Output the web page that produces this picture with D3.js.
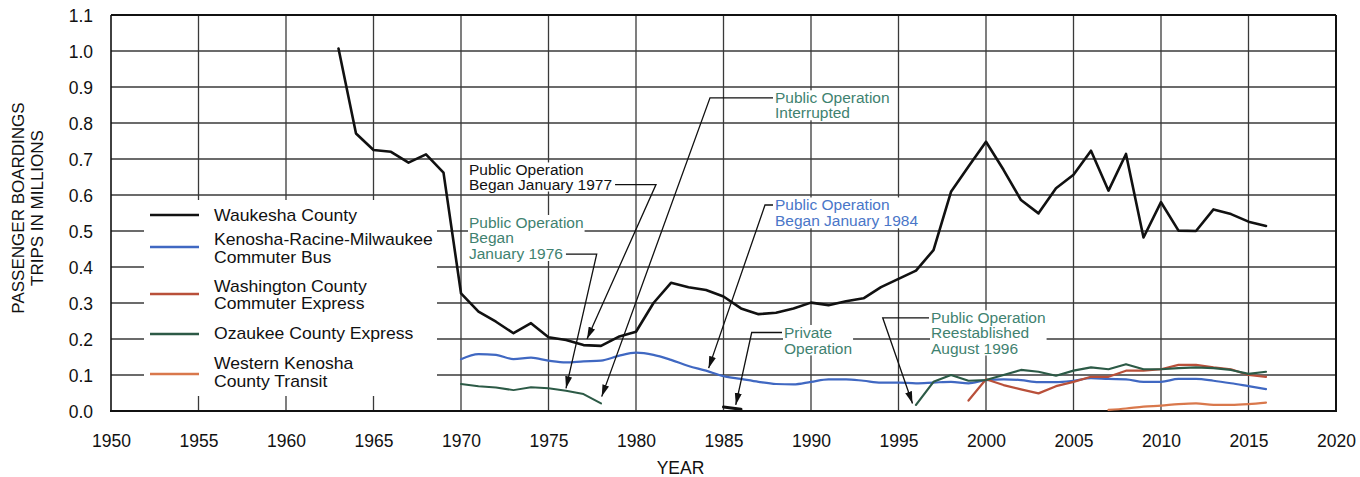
<!DOCTYPE html>
<html><head><meta charset="utf-8">
<script src="https://cdn.jsdelivr.net/npm/d3@7"></script>
<style>
body{margin:0;background:#fff}
svg{display:block}
text{font-family:"Liberation Sans",Arial,Helvetica,sans-serif}
</style>
</head><body>
<svg id="c" width="1360" height="477"></svg>
<script>
// ---------------- DATA ----------------
const xTickValues = [1950,1955,1960,1965,1970,1975,1980,1985,1990,1995,2000,2005,2010,2015,2020];
const yTickValues = [0,0.1,0.2,0.3,0.4,0.5,0.6,0.7,0.8,0.9,1.0,1.1];
const yTickLabels = ["0.0","0.1","0.2","0.3","0.4","0.5","0.6","0.7","0.8","0.9","1.0","1.1"];

const waukeshaStart = 1963;
const waukesha = [1.007,0.771,0.725,0.72,0.69,0.713,0.662,0.327,0.276,0.248,0.216,0.244,0.205,0.197,0.183,0.181,0.206,0.22,0.30,0.356,0.344,0.336,0.318,0.285,0.269,0.273,0.285,0.301,0.294,0.305,0.313,0.344,0.367,0.39,0.447,0.609,0.679,0.748,0.67,0.586,0.549,0.619,0.656,0.723,0.612,0.714,0.482,0.58,0.501,0.50,0.56,0.547,0.526,0.514];

const krmStart = 1970;
const krm = [0.144,0.158,0.156,0.144,0.148,0.14,0.135,0.138,0.14,0.153,0.162,0.156,0.142,0.125,0.112,0.097,0.089,0.081,0.075,0.074,0.081,0.088,0.088,0.084,0.079,0.079,0.077,0.079,0.081,0.077,0.086,0.088,0.086,0.08,0.08,0.084,0.091,0.089,0.088,0.081,0.081,0.089,0.089,0.084,0.077,0.069,0.061];

const washingtonStart = 1999;
const washington = [0.029,0.088,0.072,0.06,0.049,0.069,0.081,0.095,0.095,0.112,0.112,0.116,0.128,0.128,0.121,0.116,0.10,0.095];

const ozaukeeAStart = 1970;
const ozaukeeA = [0.075,0.069,0.065,0.058,0.066,0.063,0.056,0.047,0.021];
const ozaukeeBStart = 1985;
const ozaukeeB = [0.011,0.005];
const ozaukeeCStart = 1996;
const ozaukeeC = [0.017,0.081,0.10,0.084,0.086,0.10,0.114,0.109,0.098,0.112,0.121,0.116,0.13,0.116,0.116,0.119,0.121,0.119,0.114,0.103,0.109];

const westernStart = 2007;
const western = [0.003,0.007,0.012,0.015,0.019,0.021,0.017,0.017,0.019,0.023];

const legendNames = [["Waukesha County"],["Kenosha-Racine-Milwaukee","Commuter Bus"],["Washington County","Commuter Express"],["Ozaukee County Express"],["Western Kenosha","County Transit"]];
const seriesColors = ["#111111","#4068c2","#b9503a","#2c5a46","#d9784c"];

const annotationTexts = [
  ["Public Operation","Interrupted"],
  ["Public Operation","Began January 1977"],
  ["Public Operation","Began","January 1976"],
  ["Public Operation","Began January 1984"],
  ["Private","Operation"],
  ["Public Operation","Reestablished","August 1996"]
];
const annotationTargets = [[1978.04,0.04],[1977.2,0.2],[1976.0,0.063],[1984.15,0.119],[1985.7,0.017],[1995.8,0.021]];

// ---------------- LAYOUT ----------------
const x = d3.scaleLinear().domain([1950,2020]).range([111,1336]);
const y = d3.scaleLinear().domain([0,1.1]).range([411,15]);
const svg = d3.select("#c");

const gGrid = svg.append("g");
const gBg = svg.append("g");
const gLines = svg.append("g");
const gLead = svg.append("g");
const gText = svg.append("g");

// grid
gGrid.selectAll("line.h").data(yTickValues.filter(v=>v>0 && v<1.05)).enter().append("line")
  .attr("x1",x(1950)).attr("x2",x(2020)).attr("y1",d=>y(d)).attr("y2",d=>y(d))
  .attr("stroke","#3a3a3a").attr("stroke-width",1.3);
gGrid.selectAll("line.v").data(xTickValues.filter(v=>v>1950 && v<2020)).enter().append("line")
  .attr("x1",d=>x(d)).attr("x2",d=>x(d)).attr("y1",y(1.1)).attr("y2",y(0))
  .attr("stroke","#3a3a3a").attr("stroke-width",1.3);
// frame
gGrid.append("line").attr("x1",x(1950)).attr("x2",x(2020)).attr("y1",y(1.1)).attr("y2",y(1.1)).attr("stroke","#111").attr("stroke-width",2);
gGrid.append("line").attr("x1",x(2020)).attr("x2",x(2020)).attr("y1",y(1.1)).attr("y2",y(0)).attr("stroke","#111").attr("stroke-width",2);
gGrid.append("line").attr("x1",x(1950)).attr("x2",x(1950)).attr("y1",y(1.1)).attr("y2",y(0)).attr("stroke","#111").attr("stroke-width",1.6);
gGrid.append("line").attr("x1",x(1950)-1).attr("x2",x(2020)+1).attr("y1",y(0)).attr("y2",y(0)).attr("stroke","#111").attr("stroke-width",2.2);

// axes (labels only)
const xAxis = d3.axisBottom(x).tickValues(xTickValues).tickFormat(d3.format("d")).tickSize(0).tickPadding(0);
const gx = svg.append("g").attr("transform",`translate(0,${y(0)})`).call(xAxis);
gx.select(".domain").remove();
gx.selectAll("text").attr("y",35.5).attr("dy",null).attr("font-size",17.5).attr("fill","#111")
  .style("font-family",'"Liberation Sans",Arial,sans-serif');

const yAxis = d3.axisLeft(y).tickValues(yTickValues).tickFormat((d,i)=>yTickLabels[i]).tickSize(0).tickPadding(18);
const gy = svg.append("g").attr("transform",`translate(${x(1950)},0)`).call(yAxis);
gy.select(".domain").remove();
gy.selectAll("text").attr("font-size",17.5).attr("fill","#111").attr("dy","0.36em")
  .style("font-family",'"Liberation Sans",Arial,sans-serif');

// axis titles
svg.append("text").attr("x",680.5).attr("y",474).attr("text-anchor","middle")
  .attr("font-size",17.5).attr("fill","#111").text("YEAR");
const yt = svg.append("text").attr("transform","translate(0,208) rotate(-90)").attr("text-anchor","middle")
  .attr("font-size",17).attr("fill","#111");
yt.append("tspan").attr("x",0).attr("y",24).text("PASSENGER BOARDINGS");
yt.append("tspan").attr("x",0).attr("y",42.5).text("TRIPS IN MILLIONS");

// legend box
gBg.append("rect").attr("x",144).attr("y",200).attr("width",293).attr("height",196).attr("fill","#fff");

// series
const toPts = (start, arr) => arr.map((v,i)=>[start+i, v]);
const lineLin = d3.line().x(d=>x(d[0])).y(d=>y(d[1]));
const lineSm = d3.line().x(d=>x(d[0])).y(d=>y(d[1])).curve(d3.curveMonotoneX);
const series = [
  {pts: toPts(krmStart, krm), color: seriesColors[1], w: 2.2, gen: lineSm},
  {pts: toPts(westernStart, western), color: seriesColors[4], w: 2.2, gen: lineSm},
  {pts: toPts(washingtonStart, washington), color: seriesColors[2], w: 2.2, gen: lineLin},
  {pts: toPts(ozaukeeAStart, ozaukeeA), color: seriesColors[3], w: 2.0, gen: lineLin},
  {pts: toPts(ozaukeeBStart, ozaukeeB), color: "#111", w: 3.0, gen: lineLin},
  {pts: toPts(ozaukeeCStart, ozaukeeC), color: seriesColors[3], w: 2.2, gen: lineLin},
  {pts: toPts(waukeshaStart, waukesha), color: seriesColors[0], w: 2.6, gen: lineLin}
];
gLines.selectAll("path").data(series).enter().append("path")
  .attr("d",d=>d.gen(d.pts)).attr("fill","none").attr("stroke",d=>d.color)
  .attr("stroke-width",d=>d.w).attr("stroke-linejoin","round").attr("stroke-linecap","round");

// legend entries
const legendLineY = [215, 247, 294, 334, 374];
const legendBaselines = [[221],[244.5,262.5],[291.5,309],[339],[368.5,386.5]];
legendNames.forEach((names,i)=>{
  gText.append("line").attr("x1",150).attr("x2",199).attr("y1",legendLineY[i]).attr("y2",legendLineY[i])
    .attr("stroke",seriesColors[i]).attr("stroke-width",i===0?2.6:2.4);
  names.forEach((n,j)=>{
    gText.append("text").attr("transform",`translate(214,${legendBaselines[i][j]}) scale(1.1,1)`)
      .attr("font-size",16).attr("fill","#111").text(n);
  });
});

// annotations
const annColors = ["#3f8270","#111111","#3f8270","#4a76c8","#3f8270","#3f8270"];
const annTextX = [775, 469, 469, 775, 784, 931];
const annFirstBaseline = [102.8, 175, 227.5, 210, 337.5, 322.8];
const annLineH = [15.6, 14.6, 15.8, 16.4, 16, 15.4];
const annSide = ["right","left","left","right","right","right"];
const annElbowX = [710, 656, 596.7, 765, 751.7, 882.7];
const annLeadLine = [0, 1, 2, 0, 0, 0];
const annFont = 14.5;

const defs = svg.append("defs");
defs.append("marker").attr("id","arr").attr("markerUnits","userSpaceOnUse")
  .attr("markerWidth",14).attr("markerHeight",10).attr("refX",12).attr("refY",3.5)
  .attr("orient","auto").append("path").attr("d","M0,0 L12,3.5 L0,7 Z").attr("fill","#111");

annotationTexts.forEach((lines,i)=>{
  const g = gText.append("g");
  const tnodes = lines.map((t,j)=> g.append("text")
      .attr("transform",`translate(${annTextX[i]},${annFirstBaseline[i]+j*annLineH[i]}) scale(1.07,1)`)
      .attr("font-size",annFont).attr("fill",annColors[i]).text(t));
  // white background behind the text block
  const sr = document.getElementById("c").getBoundingClientRect();
  const r = g.node().getBoundingClientRect();
  gBg.append("rect").attr("x",r.left-sr.left-1).attr("y",r.top-sr.top+1)
    .attr("width",r.width+2).attr("height",r.height-2).attr("fill","#fff");
  const lr = tnodes[annLeadLine[i]].node().getBoundingClientRect();
  const ly = annFirstBaseline[i]+annLeadLine[i]*annLineH[i] - 5;
  const sx = annSide[i]==="right" ? (lr.left-sr.left) - 2 : (lr.right-sr.left) + 3;
  const t = annotationTargets[i];
  gLead.append("path").attr("d",`M${sx},${ly} H${annElbowX[i]} L${x(t[0])},${y(t[1])}`)
    .attr("fill","none").attr("stroke","#111").attr("stroke-width",1.3).attr("marker-end","url(#arr)");
});
</script>
</body></html>
